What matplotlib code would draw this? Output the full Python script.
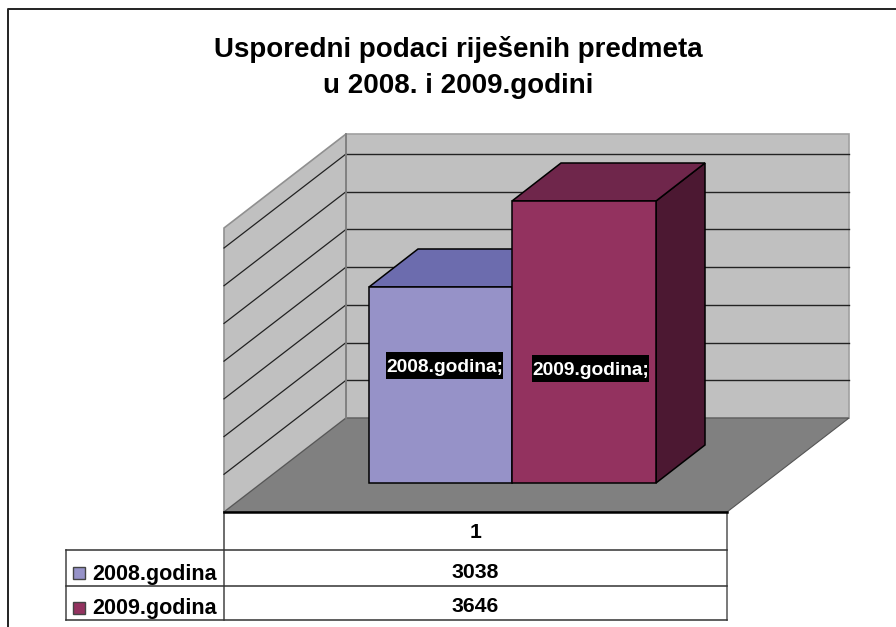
import matplotlib
matplotlib.use("Agg")
import matplotlib.pyplot as plt
from matplotlib.patches import Polygon, Rectangle

# chart data
title_lines = ["Usporedni podaci riješenih predmeta", "u 2008. i 2009.godini"]
series_names = ["2008.godina", "2009.godina"]
series_values = [3038, 3646]
category = "1"
bar_labels = ["2008.godina;", "2009.godina;"]
front_colors = ["#9692c8", "#93325f"]
top_colors = ["#6c6cae", "#6f264b"]
side_colors = ["#4c4c80", "#4c1832"]

plt.rcParams["font.family"] = ["Liberation Sans", "DejaVu Sans"]

W, H = 896, 627
fig = plt.figure(figsize=(W / 100, H / 100), dpi=100)
ax = fig.add_axes([0, 0, 1, 1])
ax.set_xlim(0, W)
ax.set_ylim(H, 0)
ax.axis("off")

# wall / floor geometry in picture pixels
fx0, fx1, fy = 224, 727, 512     # front edge of floor
dx, dy = 122, 94                 # depth of the box
top_y = 134
n_grid = 7
grid_top = 154

# outer frame, right and bottom are cut off in the original
ax.plot([8, 8, W], [H, 9, 9], color="#222222", lw=1.4)

wall = "#c0c0c0"
ax.add_patch(Polygon([(fx0 + dx, fy - dy), (fx1 + dx, fy - dy), (fx1 + dx, top_y), (fx0 + dx, top_y)],
                     fc=wall, ec="#a0a0a0", lw=1.2))
ax.add_patch(Polygon([(fx0, fy), (fx0 + dx, fy - dy), (fx0 + dx, top_y), (fx0, top_y + dy)],
                     fc=wall, ec="#909090", lw=1.2))
ax.add_patch(Polygon([(fx0, fy), (fx1, fy), (fx1 + dx, fy - dy), (fx0 + dx, fy - dy)],
                     fc="#808080", ec="#555555", lw=0.8))

step = (fy - dy - grid_top) / n_grid
for i in range(1, n_grid + 1):
    y = fy - dy - i * step
    ax.plot([fx0 + dx, fx1 + dx], [y, y], color="#222222", lw=1.0)
    ax.plot([fx0, fx0 + dx], [y + dy, y], color="#222222", lw=0.9)
ax.plot([fx0 + dx, fx0 + dx], [top_y, fy - dy], color="#808080", lw=1.3)

# bars: pixel height follows the values, scale fitted on the two bar tops
base_y = 483
bar_x = [369, 512, 656]
bar_dx, bar_dy = 49, 38
px_per_unit = 86 / 608
base_val = series_values[0] - 196 / px_per_unit

for i in [0, 1]:
    x0, x1 = bar_x[i], bar_x[i + 1]
    yt = base_y - (series_values[i] - base_val) * px_per_unit
    ax.add_patch(Polygon([(x1, base_y), (x1 + bar_dx, base_y - bar_dy), (x1 + bar_dx, yt - bar_dy), (x1, yt)],
                         fc=side_colors[i], ec="black", lw=1.1, zorder=3 + i))
    ax.add_patch(Polygon([(x0, yt), (x1, yt), (x1 + bar_dx, yt - bar_dy), (x0 + bar_dx, yt - bar_dy)],
                         fc=top_colors[i], ec="black", lw=1.1, zorder=3 + i))
    ax.add_patch(Rectangle((x0, yt), x1 - x0, base_y - yt,
                           fc=front_colors[i], ec="black", lw=1.1, zorder=3 + i))

# data labels on black boxes
label_boxes = [(386, 352), (532, 355)]
for (x, y), s in zip(label_boxes, bar_labels):
    ax.add_patch(Rectangle((x, y), 117, 27, fc="black", ec="none", zorder=6))
    ax.text(x + 58.5, y + 20, s, color="white", fontsize=13.8, fontweight="bold",
            ha="center", va="baseline", zorder=7)

# title
ax.text(458, 57, title_lines[0], fontsize=20, fontweight="bold", ha="center", va="baseline")
ax.text(458, 93, title_lines[1], fontsize=20, fontweight="bold", ha="center", va="baseline")

# data table under the floor
table_y = [512, 550, 586, 620]
swatch_y = [566.5, 601.5]
name_base = [580, 614]
value_base = [578, 612]
leg_x = 66
ax.plot([fx0, fx1], [fy, fy], color="black", lw=1.8, zorder=5)
ax.plot([fx0, fx0], [fy, table_y[3]], color="#444444", lw=1.1)
ax.plot([fx1, fx1], [fy, table_y[3]], color="#555555", lw=1.1)
ax.plot([leg_x, leg_x], [table_y[1], table_y[3]], color="#444444", lw=1.1)
for y in table_y[1:]:
    ax.plot([leg_x, fx1], [y, y], color="#333333", lw=1.1)

cx = (fx0 + fx1) / 2
ax.text(cx, 538, category, fontsize=15.3, fontweight="bold", ha="center", va="baseline")
for i, name in enumerate(series_names):
    ax.add_patch(Rectangle((leg_x + 7, swatch_y[i]), 12, 12, fc=front_colors[i], ec="#444444", lw=1))
    ax.text(leg_x + 26, name_base[i], name, fontsize=15.5, fontweight="bold", ha="left", va="baseline")
    ax.text(cx, value_base[i], str(series_values[i]), fontsize=15.3, fontweight="bold", ha="center", va="baseline")

fig.savefig("out.png", dpi=100)
